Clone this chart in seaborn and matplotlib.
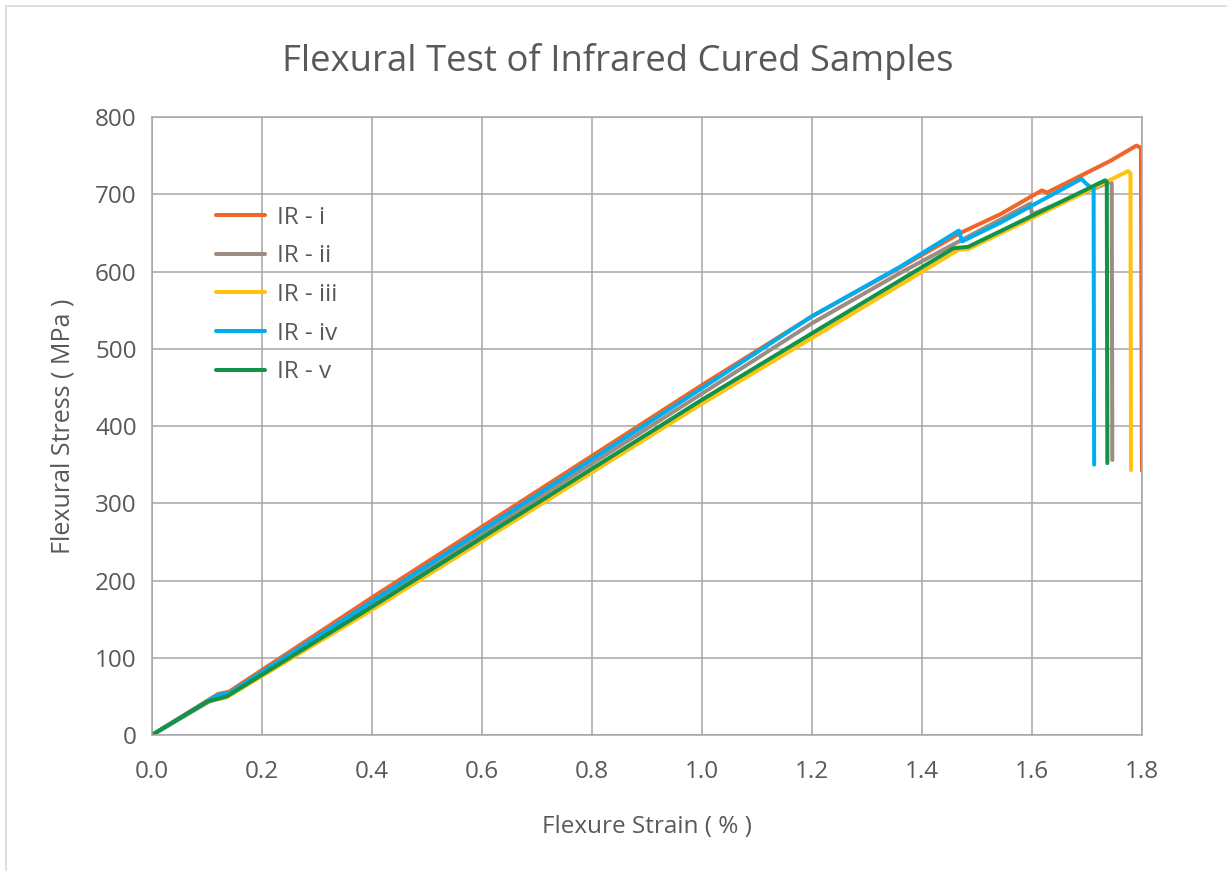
import numpy as np
import pandas as pd
import matplotlib
matplotlib.use("Agg")
import matplotlib.pyplot as plt
from matplotlib.lines import Line2D
import seaborn as sns

# ---------------- data ----------------
series_names = ["IR - i", "IR - ii", "IR - iii", "IR - iv", "IR - v"]

ir_i_strain = [0, 0.12, 0.14, 0.40, 1.00, 1.20, 1.36, 1.47, 1.542, 1.618, 1.627, 1.742, 1.790, 1.798, 1.800]
ir_i_stress = [0, 53, 56, 178, 453, 542, 605, 650, 674, 705, 702, 743, 763, 760, 342]

ir_ii_strain = [0, 0.12, 0.14, 0.40, 1.00, 1.20, 1.36, 1.47, 1.542, 1.597, 1.600, 1.742, 1.745, 1.746]
ir_ii_stress = [0, 50, 53, 170, 442, 533, 598, 640, 667, 688, 674, 716, 714, 356]

ir_iii_strain = [0, 0.10, 0.136, 0.40, 1.00, 1.20, 1.466, 1.484, 1.542, 1.775, 1.779, 1.780]
ir_iii_stress = [0, 43, 49, 162, 429, 514, 628, 629, 649, 730, 727, 343]

ir_iv_strain = [0, 0.12, 0.14, 0.40, 1.00, 1.20, 1.36, 1.467, 1.473, 1.542, 1.690, 1.698, 1.705, 1.712, 1.713]
ir_iv_stress = [0, 52, 54, 173, 449, 542, 606, 653, 639, 663, 720, 714, 710, 708, 350]

ir_v_strain = [0, 0.10, 0.136, 0.40, 1.00, 1.20, 1.457, 1.484, 1.542, 1.733, 1.736, 1.737]
ir_v_stress = [0, 43, 50, 166, 434, 520, 630, 632, 652, 718, 716, 352]

x_ticks = [0.0, 0.2, 0.4, 0.6, 0.8, 1.0, 1.2, 1.4, 1.6, 1.8]
y_ticks = [0, 100, 200, 300, 400, 500, 600, 700, 800]

colors = ["#F0652A", "#9C8C82", "#FFC20E", "#00AEEF", "#14924A"]

# ---------------- build long table ----------------
strains = [ir_i_strain, ir_ii_strain, ir_iii_strain, ir_iv_strain, ir_v_strain]
stresses = [ir_i_stress, ir_ii_stress, ir_iii_stress, ir_iv_stress, ir_v_stress]
frames = []
for name, sx, sy in zip(series_names, strains, stresses):
    frames.append(pd.DataFrame({"strain": sx, "stress": sy, "sample": name,
                                "order": range(len(sx))}))
df = pd.concat(frames, ignore_index=True)

# ---------------- style ----------------
sns.set_theme(style="white")
plt.rcParams["font.family"] = ["Open Sans", "DejaVu Sans"]
text_color = "#595959"

fig = plt.figure(figsize=(12.27, 8.71), dpi=100)
ax = fig.add_axes([152 / 1227, 1 - 735 / 871, (1142 - 152) / 1227, (735 - 117) / 871])

sns.lineplot(data=df, x="strain", y="stress", hue="sample", units="sample",
             estimator=None, sort=False, palette=colors, hue_order=series_names,
             linewidth=2.9, ax=ax, legend=False)

ax.set_xlim(0, 1.8)
ax.set_ylim(0, 800)
ax.set_xticks(x_ticks)
ax.set_xticklabels([f"{v:.1f}" for v in x_ticks])
ax.set_yticks(y_ticks)
ax.set_yticklabels([str(v) for v in y_ticks])
ax.grid(True, color="#A6A6A6", linewidth=1.1)
ax.set_axisbelow(True)
for sp in ax.spines.values():
    sp.set_color("#A6A6A6")
    sp.set_linewidth(1.1)
ax.tick_params(axis="both", length=0, labelsize=17.5, colors=text_color)
ax.tick_params(axis="x", pad=18)
ax.tick_params(axis="y", pad=11)

ax.set_xlabel("Flexure Strain ( % )", fontsize=17.5, color=text_color, labelpad=22)
ax.set_ylabel("Flexural Stress ( MPa )", fontsize=18, color=text_color, labelpad=14)
fig.text(617.5 / 1227, 1 - 62 / 871, "Flexural Test of Infrared Cured Samples",
         ha="center", va="center", fontsize=26.3, color=text_color)

handles = [Line2D([0], [0], color=c, linewidth=2.9) for c in colors]
leg = ax.legend(handles, series_names, loc="center left", bbox_to_anchor=(0.065, 0.712),
                frameon=False, fontsize=17.5, handlelength=2.0, handletextpad=0.5,
                labelspacing=0.6, borderaxespad=0, borderpad=0)
for t in leg.get_texts():
    t.set_color(text_color)

# light frame of the chart area (top and left visible)
fig.add_artist(Line2D([6 / 1227, 6 / 1227], [0, 1 - 6 / 871], transform=fig.transFigure,
                      color="#D9D9D9", linewidth=1.2))
fig.add_artist(Line2D([6 / 1227, 1], [1 - 6 / 871, 1 - 6 / 871], transform=fig.transFigure,
                      color="#D9D9D9", linewidth=1.2))

fig.savefig("out.png", dpi=100, facecolor="white")
